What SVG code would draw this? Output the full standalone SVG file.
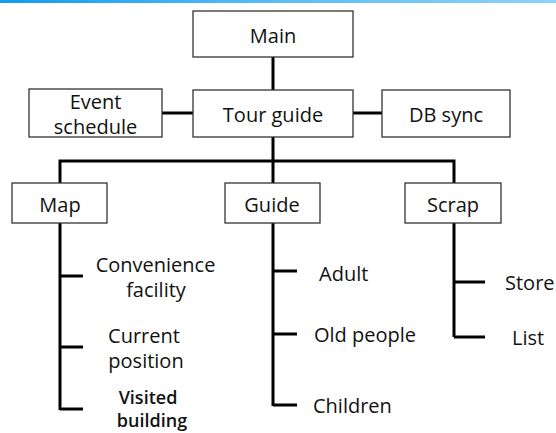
<svg xmlns="http://www.w3.org/2000/svg" width="556" height="433" viewBox="0 0 556 433">
<defs>
<linearGradient id="bar" x1="0" y1="0" x2="1" y2="0">
<stop offset="0" stop-color="#139cee"/>
<stop offset="0.5" stop-color="#5cbcf4"/>
<stop offset="1" stop-color="#8fd2f9"/>
</linearGradient>
</defs>
<style>
.box{fill:#fff;stroke:#333;stroke-width:1.3}
.t{font-family:"Open Sans","Noto Sans",sans-serif;font-size:20px;fill:#111;text-anchor:middle}
.l{font-family:"Open Sans","Noto Sans",sans-serif;font-size:20px;fill:#111}
.b{font-weight:600;font-size:18px}
.c{fill:none;stroke:#000;stroke-width:3}
</style>
<rect x="0" y="0" width="556" height="433" fill="#fff"/>
<rect x="0" y="0" width="556" height="3" fill="url(#bar)"/>
<g id="connectors">
<path class="c" d="M273 57V90M273 137V183M162 113H193M353 113H382M60 183V161H454V183"/>
<path class="c" d="M60 223V410M60 276H83M60 347H83M60 409H83"/>
<path class="c" d="M273 223V406M273 271H297M273 334H297M273 405H297"/>
<path class="c" d="M454 223V337M454 282H485M454 337H485"/>
</g>
<g id="main"><rect class="box" x="193" y="11" width="160" height="46"/><text class="t" x="273" y="43">Main</text></g>
<g id="tour-guide"><rect class="box" x="193" y="90" width="160" height="47"/><text class="t" x="273" y="122">Tour guide</text></g>
<g id="event-schedule"><rect class="box" x="29" y="89" width="133" height="48"/><text class="t" x="95.5" y="109">Event</text><text class="t" x="95.5" y="134">schedule</text></g>
<g id="db-sync"><rect class="box" x="382" y="90" width="128" height="47"/><text class="t" x="446" y="122">DB sync</text></g>
<g id="map"><rect class="box" x="12" y="183" width="95" height="40"/><text class="t" x="60" y="212">Map</text></g>
<g id="guide"><rect class="box" x="225" y="183" width="95" height="40"/><text class="t" x="272" y="212">Guide</text></g>
<g id="scrap"><rect class="box" x="405" y="183" width="96" height="40"/><text class="t" x="453" y="212">Scrap</text></g>
<g id="map-items">
<text class="t" x="155.5" y="272">Convenience</text><text class="t" x="156" y="297">facility</text>
<text class="t" x="144" y="343">Current</text><text class="t" x="146" y="368">position</text>
<text class="t b" x="148" y="404">Visited</text><text class="t b" x="152" y="427">building</text>
</g>
<g id="guide-items">
<text class="l" x="319" y="281">Adult</text>
<text class="l" x="314" y="342">Old people</text>
<text class="l" x="313" y="413">Children</text>
</g>
<g id="scrap-items">
<text class="l" x="505" y="290">Store</text>
<text class="l" x="512" y="345">List</text>
</g>
</svg>
